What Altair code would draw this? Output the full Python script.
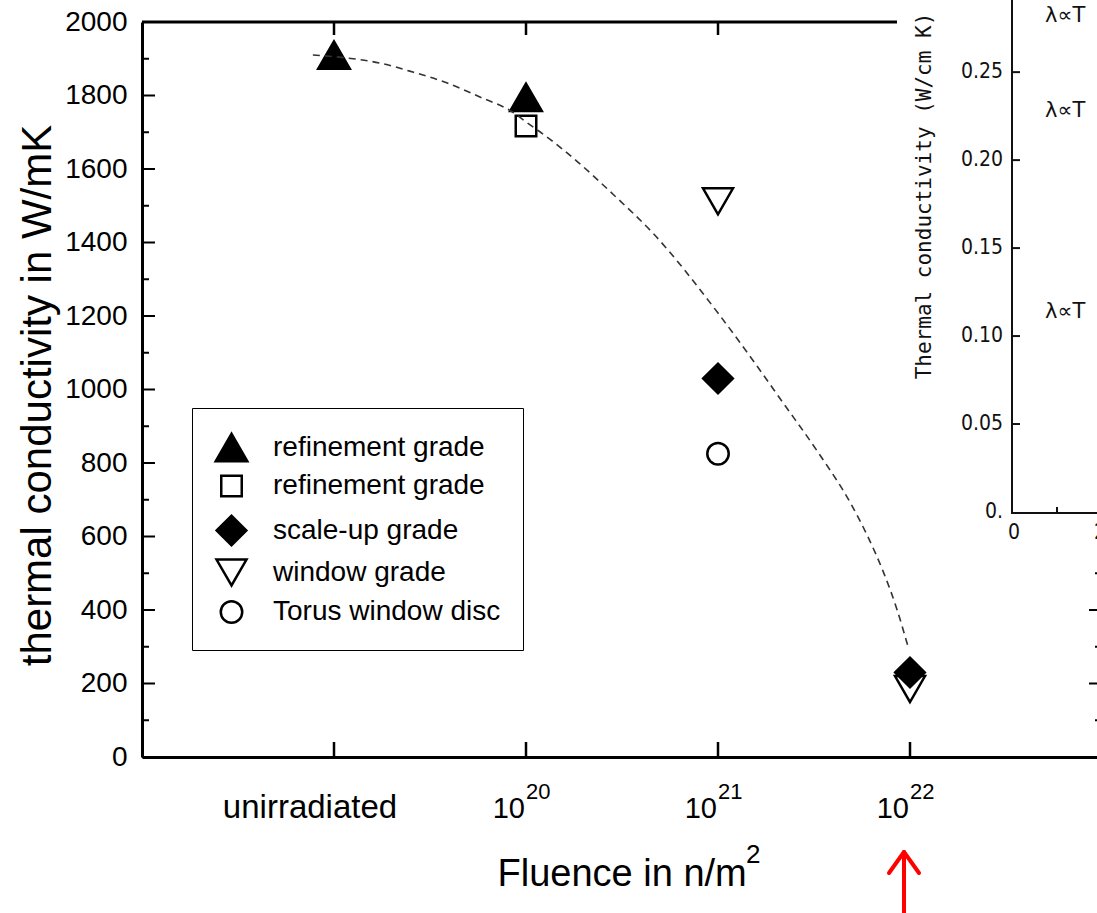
import altair as alt
import pandas as pd

# ---------------- data ----------------
# category positions on the fluence axis (unirradiated, 1e20, 1e21, 1e22)
cat_pos = [1, 2, 3, 4]
cat_base = ["unirradiated", "10", "10", "10"]
cat_sup = ["", "20", "21", "22"]

legend_series = ["refinement grade|1", "refinement grade|2", "scale-up grade",
                 "window grade", "Torus window disc"]
legend_shapes = ["triangle-up", "square", "diamond", "triangle-down", "circle"]
legend_fills = ["black", "white", "black", "white", "white"]
legend_strokes = ["black", "black", "black", "black", "black"]
legend_sizes = [1000, 420, 880, 900, 460]

# drawing order: window grade drawn before scale-up grade (diamond on top)
point_series = ["refinement grade|1", "refinement grade|1", "refinement grade|2",
                "window grade", "window grade", "scale-up grade", "scale-up grade",
                "Torus window disc"]
point_pos = [1, 2, 2, 3, 4, 3, 4, 3]
point_val = [1910, 1795, 1717, 1512, 185, 1030, 230, 825]

# dashed guide curve
curve_pos = [0.89, 1.07, 1.24, 1.41, 1.59, 1.76, 1.93, 2.00, 2.11, 2.27, 2.46,
             2.66, 3.00, 3.17, 3.34, 3.52, 3.69, 3.78, 3.86, 3.93, 3.99]
curve_val = [1910, 1902, 1888, 1864, 1834, 1796, 1755, 1728, 1687, 1619, 1528,
             1426, 1208, 1088, 963, 830, 691, 600, 505, 405, 300]

y_major = [0, 200, 400, 600, 800, 1000, 1200, 1400, 1600, 1800, 2000]
y_minor = [100, 300, 500, 700, 900, 1100, 1300, 1500, 1700, 1900]

# inset (cropped second chart)
inset_tick_vals = [0.05, 0.10, 0.15, 0.20, 0.25]
inset_label_vals = [0.0, 0.05, 0.10, 0.15, 0.20, 0.25]
inset_labels = ["0.", "0.05", "0.10", "0.15", "0.20", "0.25"]
inset_x_label_pos = [0, 2]
inset_x_labels = ["0", "2"]
inset_x_minor = [1]
lambda_pos = [0.72, 0.72, 0.72]
lambda_vals = [0.282, 0.228, 0.1136]
lambda_text = ["λ∝T", "λ∝T", "λ∝T"]

# ---------------- styling ----------------
FONT = "Liberation Sans"
IFONT = "DejaVu Sans Condensed"

X = alt.Scale(domain=[0, 5], range=[0, 960], nice=False, zero=False)
Y = alt.Scale(domain=[0, 2000], nice=False)
IX = alt.Scale(domain=[0, 3], range=[872, 1001], nice=False, zero=False)
IY = alt.Scale(domain=[0, 0.291], range=[490, -22], nice=False)

one = pd.DataFrame({"a": [0]})
pts_df = pd.DataFrame({"s": point_series, "pos": point_pos, "val": point_val})
curve_df = pd.DataFrame({"pos": curve_pos, "val": curve_val})
major_df = pd.DataFrame({"v": y_major})
minor_df = pd.DataFrame({"v": y_minor})
cat_df = pd.DataFrame({"pos": cat_pos, "base": cat_base, "sup": cat_sup})

leg = alt.Legend(
    orient="none", legendX=50, legendY=386, title=None,
    labelFont=FONT, labelFontSize=28, labelColor="black", labelLimit=500,
    labelOffset=24, labelExpr="split(datum.label, '|')[0]",
    symbolStrokeColor="black", symbolStrokeWidth=2.5,
    strokeColor="black", padding=22, rowPadding=1, gridAlign="all",
    fillColor="white",
)

NOAX = None

# ---------------- main chart layers ----------------
frame_top = alt.Chart(one).mark_rule(color="black", strokeWidth=3).encode(
    x=alt.value(0), x2=alt.value(960), y=alt.value(0))

left_major = alt.Chart(major_df).mark_rule(color="black", strokeWidth=2).encode(
    y=alt.Y("v:Q", scale=Y, axis=NOAX), x=alt.value(0), x2=alt.value(13))
left_minor = alt.Chart(minor_df).mark_rule(color="black", strokeWidth=2).encode(
    y=alt.Y("v:Q", scale=Y, axis=NOAX), x=alt.value(0), x2=alt.value(7))
right_major = alt.Chart(major_df).mark_rule(color="black", strokeWidth=2).encode(
    y=alt.Y("v:Q", scale=Y, axis=NOAX), x=alt.value(947), x2=alt.value(960))
right_minor = alt.Chart(minor_df).mark_rule(color="black", strokeWidth=2).encode(
    y=alt.Y("v:Q", scale=Y, axis=NOAX), x=alt.value(953), x2=alt.value(960))
top_ticks = alt.Chart(cat_df).mark_rule(color="black", strokeWidth=2.5).encode(
    x=alt.X("pos:Q", scale=X, axis=NOAX), y=alt.value(0), y2=alt.value(13))
bottom_ticks = alt.Chart(cat_df).mark_rule(color="black", strokeWidth=2.5).encode(
    x=alt.X("pos:Q", scale=X, axis=NOAX), y=alt.value(720), y2=alt.value(735))

curve = alt.Chart(curve_df).mark_line(
    color="#333333", strokeWidth=1.6, strokeDash=[7, 5], interpolate="monotone"
).encode(x=alt.X("pos:Q", scale=X, axis=NOAX), y=alt.Y("val:Q", scale=Y, axis=NOAX))

points = alt.Chart(pts_df).mark_point(
    filled=True, strokeWidth=2.5, opacity=1
).encode(
    x=alt.X("pos:Q", scale=X, axis=alt.Axis(
        orient="bottom", labels=False, ticks=False, tickSize=0, grid=False,
        domainColor="black", domainWidth=3,
        title="Fluence in n/m", titleFont=FONT, titleFontSize=38,
        titleFontWeight="normal", titleColor="black", titleAlign="left",
        titleX=355, titleY=128, titleBaseline="alphabetic")),
    y=alt.Y("val:Q", scale=Y, axis=alt.Axis(
        orient="left", values=y_major, format="d", ticks=False, tickSize=0, grid=False,
        labelFont=FONT, labelFontSize=28, labelColor="black", labelPadding=15,
        domainColor="black", domainWidth=3,
        title="thermal conductivity in W/mK", titleFont=FONT, titleFontSize=42,
        titleFontWeight="normal", titleColor="black", titleAngle=270,
        titleX=-92, titleY=373, titleAlign="center", titleBaseline="alphabetic")),
    shape=alt.Shape("s:N", scale=alt.Scale(domain=legend_series, range=legend_shapes), legend=leg),
    fill=alt.Fill("s:N", scale=alt.Scale(domain=legend_series, range=legend_fills), legend=leg),
    stroke=alt.Stroke("s:N", scale=alt.Scale(domain=legend_series, range=legend_strokes), legend=leg),
    size=alt.Size("s:N", scale=alt.Scale(type="ordinal", domain=legend_series, range=legend_sizes), legend=leg),
)

unirr = alt.Chart(cat_df).transform_filter("datum.sup == ''").mark_text(
    font=FONT, fontSize=33, align="center", baseline="alphabetic", dx=-24, color="black"
).encode(x=alt.X("pos:Q", scale=X, axis=NOAX), y=alt.value(796), text="base:N")
tens = alt.Chart(cat_df).transform_filter("datum.sup != ''").mark_text(
    font=FONT, fontSize=29, align="right", baseline="alphabetic", dx=-1, color="black"
).encode(x=alt.X("pos:Q", scale=X, axis=NOAX), y=alt.value(796), text="base:N")
sups = alt.Chart(cat_df).transform_filter("datum.sup != ''").mark_text(
    font=FONT, fontSize=22, align="left", baseline="alphabetic", dx=0, color="black"
).encode(x=alt.X("pos:Q", scale=X, axis=NOAX), y=alt.value(777), text="sup:N")

title_sup = alt.Chart(one).mark_text(
    font=FONT, fontSize=26, align="left", baseline="alphabetic", color="black", text="2"
).encode(x=alt.value(604), y=alt.value(841))

arrow_shaft = alt.Chart(one).mark_rule(color="red", strokeWidth=4).encode(
    x=alt.value(762), y=alt.value(831), y2=alt.value(891))
arrow_l = alt.Chart(one).mark_rule(color="red", strokeWidth=4, strokeCap="round").encode(
    x=alt.value(762), y=alt.value(830), x2=alt.value(747), y2=alt.value(851))
arrow_r = alt.Chart(one).mark_rule(color="red", strokeWidth=4, strokeCap="round").encode(
    x=alt.value(762), y=alt.value(830), x2=alt.value(777), y2=alt.value(851))

# ---------------- inset layers ----------------
it_df = pd.DataFrame({"v": inset_tick_vals})
il_df = pd.DataFrame({"v": inset_label_vals, "t": inset_labels})
ixl_df = pd.DataFrame({"p": inset_x_label_pos, "t": inset_x_labels})
ixm_df = pd.DataFrame({"p": inset_x_minor})
lam_df = pd.DataFrame({"p": lambda_pos, "v": lambda_vals, "t": lambda_text})

inset_bg = alt.Chart(one).mark_rect(fill="white").encode(
    x=alt.value(755), x2=alt.value(960), y=alt.value(-22), y2=alt.value(533))
inset_yaxis = alt.Chart(one).mark_rule(color="#111111", strokeWidth=2).encode(
    x=alt.value(870), y=alt.value(-22), y2=alt.value(491))
inset_xaxis = alt.Chart(one).mark_rule(color="#111111", strokeWidth=2).encode(
    x=alt.value(869), x2=alt.value(960), y=alt.value(491))
inset_yticks = alt.Chart(it_df).mark_rule(color="#111111", strokeWidth=2).encode(
    y=alt.Y("v:Q", scale=IY, axis=NOAX), x=alt.value(870), x2=alt.value(878))
inset_ylabels = alt.Chart(il_df).mark_text(
    font=IFONT, fontSize=21, align="right", baseline="middle", color="#111111"
).encode(y=alt.Y("v:Q", scale=IY, axis=NOAX), x=alt.value(861), text="t:N")
inset_xminor = alt.Chart(ixm_df).mark_rule(color="#111111", strokeWidth=2).encode(
    x=alt.X("p:Q", scale=IX, axis=NOAX), y=alt.value(485), y2=alt.value(491))
inset_xlabels = alt.Chart(ixl_df).mark_text(
    font=IFONT, fontSize=21, align="center", baseline="middle", color="#111111"
).encode(x=alt.X("p:Q", scale=IX, axis=NOAX), y=alt.value(511), text="t:N")
inset_lambda = alt.Chart(lam_df).mark_text(
    font="DejaVu Sans", fontSize=21, align="left", baseline="middle", color="#111111"
).encode(x=alt.X("p:Q", scale=IX, axis=NOAX), y=alt.Y("v:Q", scale=IY, axis=NOAX), text="t:N")
inset_title = alt.Chart(one).mark_text(
    font="DejaVu Sans Mono", fontSize=21, align="center", baseline="middle",
    angle=270, color="#111111", text="Thermal conductivity (W/cm K)"
).encode(x=alt.value(783), y=alt.value(174))

chart = alt.layer(
    points, frame_top, left_major, left_minor, right_major, right_minor, top_ticks,
    bottom_ticks, curve, unirr, tens, sups, title_sup,
    arrow_shaft, arrow_l, arrow_r,
    inset_bg, inset_yaxis, inset_xaxis, inset_yticks, inset_ylabels,
    inset_xminor, inset_xlabels, inset_lambda, inset_title,
).resolve_scale(
    x="independent", y="independent"
).properties(
    width=955, height=735,
    padding={"left": 142, "top": 22, "right": 0, "bottom": 156},
    autosize=alt.AutoSizeParams(type="none"),
    background="white",
).configure_view(stroke=None)

chart.save("out.html", embed_options={"renderer": "svg", "actions": False})
